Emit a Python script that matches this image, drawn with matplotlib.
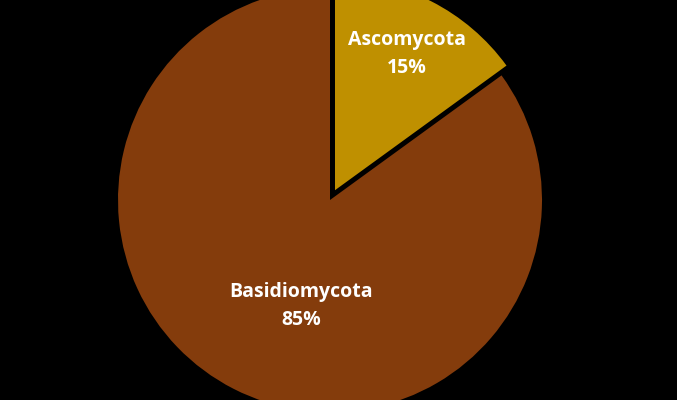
import matplotlib.pyplot as plt

phyla = ['Ascomycota', 'Basidiomycota']
shares = [15, 85]
colors = ['#BF9000', '#843C0C']

fig = plt.figure(figsize=(6.77, 4.0), dpi=100, facecolor='black')
ax = fig.add_axes([0, 0, 1, 1])
ax.set_facecolor('black')

# pie in pixel-like coordinates so it can spill past the top and bottom
wedges, _ = ax.pie(shares, colors=colors, startangle=90, counterclock=False,
                   radius=212, center=(330, 200), explode=[11, 0], frame=True,
                   wedgeprops=dict(linewidth=0))
ax.set_xlim(0, 677)
ax.set_ylim(0, 400)
ax.set_aspect('equal')
ax.axis('off')

# label spots (pixel offsets from pie centre)
label_pos = [(407, 346), (301, 94)]
for name, val, (x, y) in zip(phyla, shares, label_pos):
    ax.text(x, y, f'{name}\n{val}%', color='white', fontsize=14, fontweight='bold',
            ha='center', va='center', linespacing=1.55, family='Open Sans')

fig.savefig('out.png', dpi=100, facecolor='black')
